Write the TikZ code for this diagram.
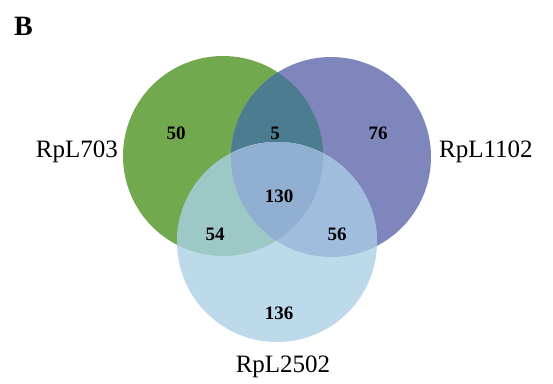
\documentclass[tikz,border=0pt]{standalone}
\usepackage{fontspec}
\setmainfont{Liberation Serif}
\usepackage{xcolor}
\usepackage{tikz}
\definecolor{verde}{HTML}{72A84E}
\definecolor{morado}{HTML}{7F86BC}
\definecolor{celeste}{HTML}{BDDAEA}
\definecolor{vm}{HTML}{4C7C8F}
\definecolor{vc}{HTML}{9CC9C5}
\definecolor{mc}{HTML}{A1BDDE}
\definecolor{vmc}{HTML}{91AFD0}

\begin{document}
\begin{tikzpicture}[x=1pt, y=-1pt,
      lbl/.style={inner sep=0pt, font=\fontsize{25}{30}\selectfont},
      num/.style={inner sep=0pt, font=\fontsize{19}{22}\selectfont\bfseries}]
    \useasboundingbox (0,0) rectangle (553,383);
    \coordinate (g) at (223,156);
    \coordinate (m) at (331,157);
    \coordinate (c) at (277,242);
    % circles and overlaps
    \fill[verde] (g) circle[radius=100pt];
    \fill[morado] (m) circle[radius=100pt];
    \begin{scope}
      \clip (g) circle[radius=100pt];
      \fill[vm] (m) circle[radius=100pt];
    \end{scope}
    \fill[celeste] (c) circle[radius=100pt];
    \begin{scope}
      \clip (c) circle[radius=100pt];
      \fill[vc] (g) circle[radius=100pt];
      \fill[mc] (m) circle[radius=100pt];
      \clip (g) circle[radius=100pt];
      \fill[vmc] (m) circle[radius=100pt];
    \end{scope}
    % panel letter and set names
    \node[anchor=base west, inner sep=0pt, font=\fontsize{28}{32}\selectfont\bfseries] (panel) at (14,35) {B};
    \node[lbl, anchor=base east] (s1) at (118,157) {RpL703};
    \node[lbl, anchor=base west] (s2) at (439,157) {RpL1102};
    \node[lbl, anchor=base] (s3) at (283,372) {RpL2502};
    % counts
    \node[num] (n1) at (176,133) {50};
    \node[num] (n12) at (275,133) {5};
    \node[num] (n2) at (378,133) {76};
    \node[num] (n123) at (279,196) {130};
    \node[num] (n13) at (215,234) {54};
    \node[num] (n23) at (337,234) {56};
    \node[num] (n3) at (279,313) {136};
  \end{tikzpicture}
\end{document}
